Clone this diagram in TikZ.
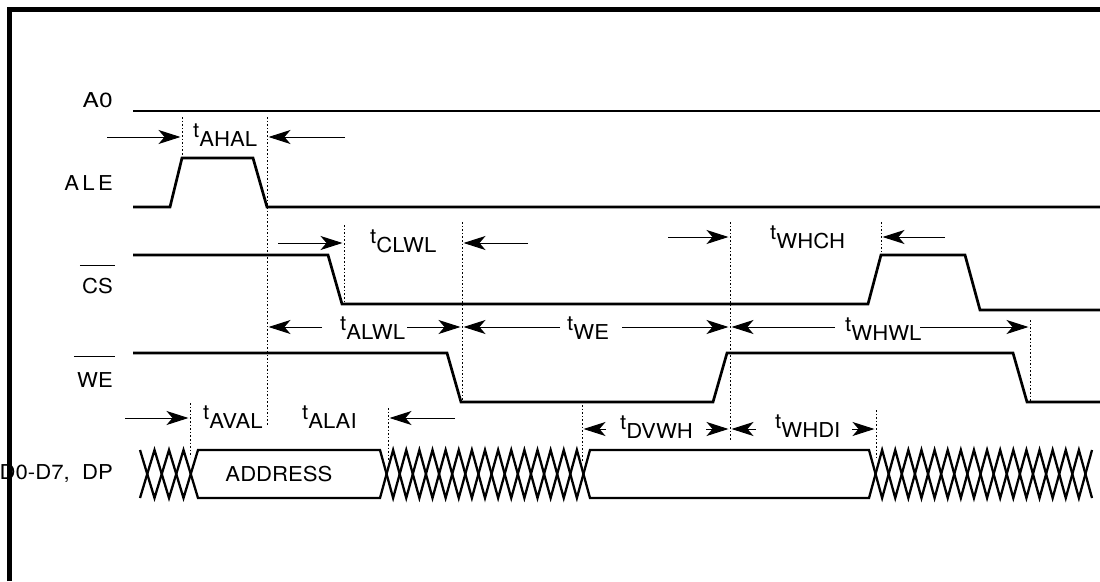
\documentclass[tikz,border=0pt]{standalone}
\usepackage{fontspec}
\setmainfont{TeX Gyre Heros}
\usetikzlibrary{arrows.meta}
\newcommand{\wide}[1]{\scalebox{1.08}[1]{#1}}
\newcommand{\tlab}[1]{\wide{t\raisebox{-9pt}{#1}}}

\begin{document}
\begin{tikzpicture}[x=1pt,y=-1pt,font=\fontsize{20.5}{24}\selectfont,
  sigline/.style={line width=2.7pt},
  busline/.style={line width=2.3pt},
  dim/.style={line width=1pt,shorten >=1.5pt,-{Stealth[length=22pt,width=14pt,inset=6pt]}},
  guide/.style={line width=0.8pt,dash pattern=on 1.6pt off 2pt},
  lbl/.style={inner sep=0pt,anchor=base east},
  tm/.style={inner sep=0pt,anchor=base west}]
  %
  \useasboundingbox (0,0) rectangle (1100,581);
  \draw[line width=4.5pt] (9.5,581) -- (9.5,9.5) -- (1100,9.5);
  %
  % signal names
  \node[lbl] (a0) at (113,107) {\scalebox{1.2}[1]{A0}};
  \node[lbl] (ale) at (113,190) {\wide{A\kern3pt L\kern3pt E}};
  \node[lbl] (cs) at (113,293) {\wide{CS}};
  \node[lbl] (we) at (113,387) {\wide{WE}};
  \node[lbl] (data) at (113,479) {\wide{D0-D7,\ \ DP}};
  \draw[line width=1pt] ([xshift=-2pt,yshift=12pt]cs.north west) -- ([xshift=2pt,yshift=12pt]cs.north east);
  \draw[line width=1pt] ([xshift=-3pt,yshift=15pt]we.north west) -- ([xshift=2pt,yshift=15pt]we.north east);
  %
  % waveforms
  \draw[sigline] (133,111) -- (1100,111);
  \draw[sigline] (133,207) -- (170,207) -- (182,158) -- (253,158) -- (267,207) -- (1100,207);
  \draw[sigline] (133,255) -- (328,255) -- (342,304) -- (868,304) -- (881,255) -- (965,255) -- (980,310) -- (1100,310);
  \draw[sigline] (133,353) -- (447,353) -- (461,402) -- (713,402) -- (727,353) -- (1013,353) -- (1027,402) -- (1100,402);
  %
  % data bus
  \draw[busline] (140,450) \foreach \xa/\xb/\n in {140/198/4,380/590/16,869/1092/17} {
    -- (\xa,450) \foreach \k in {1,...,\n} { -- ({\xa+\k*(\xb-\xa)/\n},{474-24*cos(180*\k)}) } };
  \draw[busline] (140,498) \foreach \xa/\xb/\n in {140/198/4,380/590/16,869/1092/17} {
    -- (\xa,498) \foreach \k in {1,...,\n} { -- ({\xa+\k*(\xb-\xa)/\n},{474+24*cos(180*\k)}) } };
  \node[inner sep=0pt,anchor=base] (addr) at (279,481) {\wide{ADDRESS}};
  %
  % timing guides
  \foreach \name/\x/\ya/\yb in {ahal1/182/117/158, ahal2/267/117/425, clwl1/344/225/304,
      clwl2/462/222/402, whch1/730/222/440, whch2/881/222/255, whwl/1030/320/402,
      aval/190/403/457, alai/388/408/460, dvwh/582/405/462, whdi/876/410/459} {
    \coordinate (\name) at (\x,\ya);
    \draw[guide] (\name) -- (\x,\yb);
  }
  %
  % timing parameters
  \node[tm] (t1) at (193,137) {\tlab{AHAL}};
  \draw[dim] (107,137) -- (ahal1 |- 0,137);
  \draw[dim] (345,137) -- (ahal2 |- 0,137);
  %
  \node[tm] (t2) at (370,243) {\tlab{CLWL}};
  \draw[dim] (278,243) -- (clwl1 |- 0,243);
  \draw[dim] (528,243) -- (clwl2 |- 0,243);
  %
  \node[tm] (t3) at (770,239) {\tlab{WHCH}};
  \draw[dim] (668,237) -- (whch1 |- 0,237);
  \draw[dim] (945,237) -- (whch2 |- 0,237);
  %
  \node[tm] (t4) at (340,330) {\tlab{ALWL}};
  \draw[dim] (322,327) -- (ahal2 |- 0,327);
  \draw[dim] (407,327) -- (clwl2 |- 0,327);
  \node[tm] (t5) at (567,330) {\tlab{WE}};
  \draw[dim] (560,327) -- (clwl2 |- 0,327);
  \draw[dim] (622,327) -- (whch1 |- 0,327);
  \node[tm] (t6) at (845,331) {\tlab{WHWL}};
  \draw[dim] (835,327) -- (whch1 |- 0,327);
  \draw[dim] (920,327) -- (whwl |- 0,327);
  %
  \node[tm] (t7) at (203,419) {\tlab{AVAL}};
  \draw[dim] (125,418) -- (aval |- 0,418);
  \node[tm] (t8) at (302,419) {\tlab{ALAI}};
  \draw[dim] (455,418) -- (alai |- 0,418);
  %
  \node[tm] (t9) at (620,429) {\tlab{DVWH}};
  \draw[dim] (606,429) -- (dvwh |- 0,429);
  \draw[dim] (706,429) -- (whch1 |- 0,429);
  \node[tm] (t10) at (775,428) {\tlab{WHDI}};
  \draw[dim] (756,429) -- (whch1 |- 0,429);
  \draw[dim] (852,429) -- (whdi |- 0,429);
\end{tikzpicture}
\end{document}
